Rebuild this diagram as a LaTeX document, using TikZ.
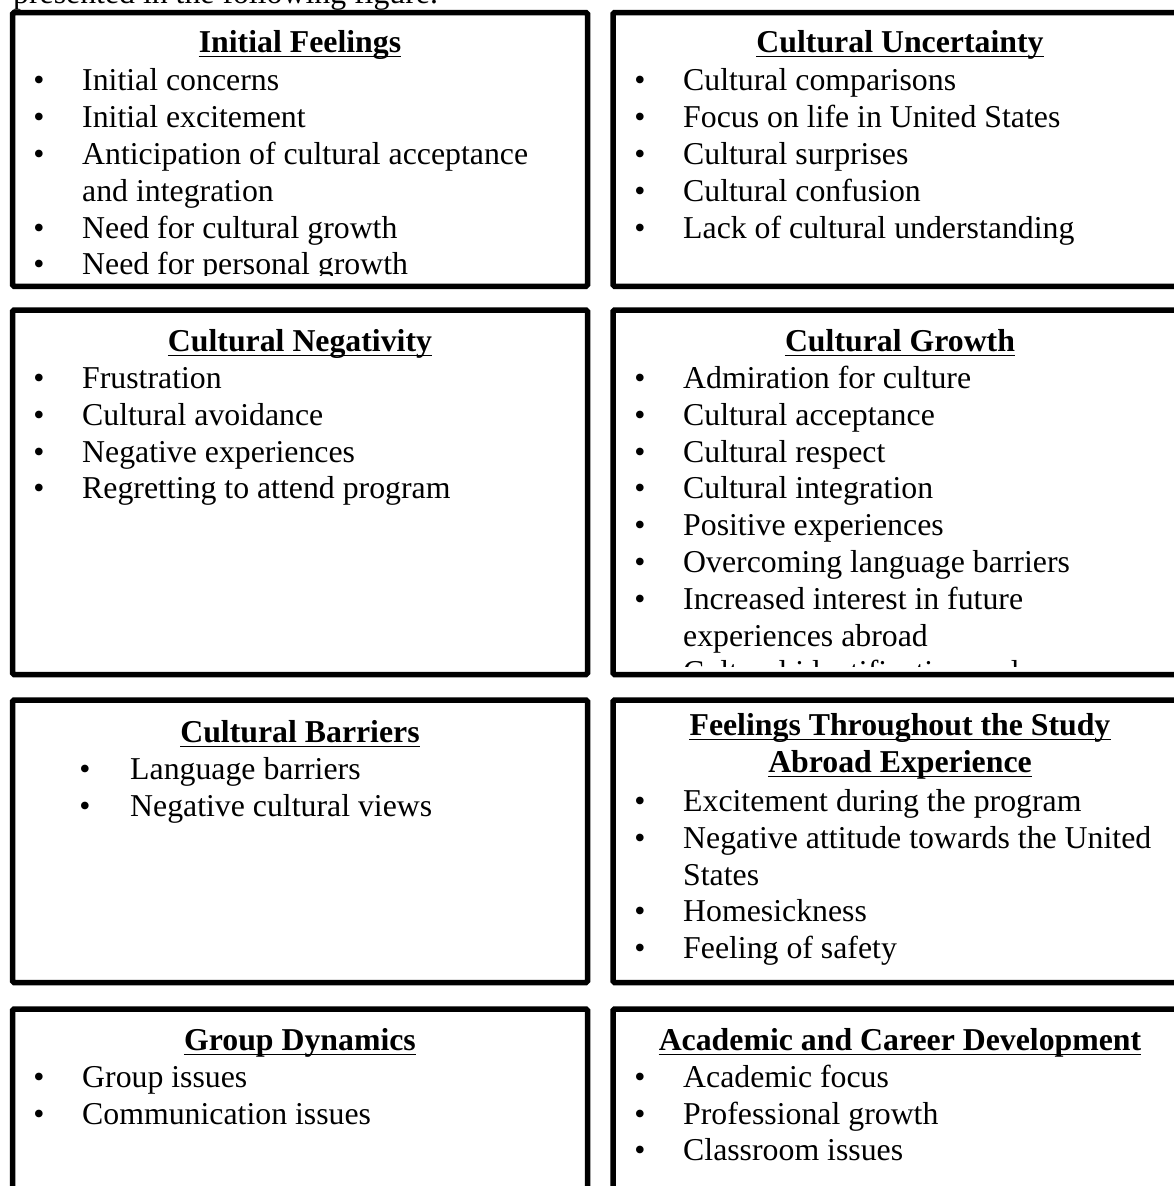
\documentclass[tikz,border=0pt]{standalone}
\usepackage{fontspec}
\setmainfont{Liberation Serif}
\begin{document}
\begin{tikzpicture}[x=1pt,y=-1pt,
  every node/.style={inner sep=0pt, font=\fontsize{31.8}{36.8}\selectfont},
  txt/.style={anchor=base west},
  bul/.style={anchor=base},
  head/.style={anchor=base, font=\fontsize{31.8}{36.8}\selectfont\bfseries},
  uline/.style={line width=1.8pt},
  frame/.style={line width=5.5pt, rounded corners=1.5pt}]
\clip (0,0) rectangle (1174,1186);
\fill[white] (0,0) rectangle (1174,1186);
\node[txt] (intro) at (13,3) {presented in the following figure.};
% frames
\draw[frame] (12.5,12.5) rectangle (587.5,286.3);
\draw[frame] (613,12.5) rectangle (1187.5,286.3);
\draw[frame] (12.5,310) rectangle (587.5,674.5);
\draw[frame] (613,310) rectangle (1187.5,674.5);
\draw[frame] (12.5,700) rectangle (587.5,982.5);
\draw[frame] (613,700) rectangle (1187.5,982.5);
\draw[frame] (12.5,1009) rectangle (587.5,1200);
\draw[frame] (613,1009) rectangle (1187.5,1200);
% Box 1 left
\node[head] (h1) at (300,52) {Initial Feelings};
\draw[uline] ([yshift=-4.5pt]h1.base west) -- ([yshift=-4.5pt]h1.base east);
\begin{scope}
\clip (15,15) rectangle (585,275.5);
\node[bul] (b1a) at (39,90) {•};  \node[txt] (t1a) at (82,90) {Initial concerns};
\node[bul] (b1b) at (39,127) {•}; \node[txt] (t1b) at (82,127) {Initial excitement};
\node[bul] (b1c) at (39,164) {•}; \node[txt] (t1c) at (82,164) {Anticipation of cultural acceptance};
\node[txt] (t1d) at (82,201) {and integration};
\node[bul] (b1e) at (39,238) {•}; \node[txt] (t1e) at (82,238) {Need for cultural growth};
\node[bul] (b1f) at (39,274) {•}; \node[txt] (t1f) at (82,274) {Need for personal growth};
\end{scope}
% Box 1 right
\node[head] (h2) at (900,52) {Cultural Uncertainty};
\draw[uline] ([yshift=-4.5pt]h2.base west) -- ([yshift=-4.5pt]h2.base east);
\node[bul] (b2a) at (640,90) {•};  \node[txt] (t2a) at (683,90) {Cultural comparisons};
\node[bul] (b2b) at (640,127) {•}; \node[txt] (t2b) at (683,127) {Focus on life in United States};
\node[bul] (b2c) at (640,164) {•}; \node[txt] (t2c) at (683,164) {Cultural surprises};
\node[bul] (b2d) at (640,201) {•}; \node[txt] (t2d) at (683,201) {Cultural confusion};
\node[bul] (b2e) at (640,238) {•}; \node[txt] (t2e) at (683,238) {Lack of cultural understanding};
% Box 2 left
\node[head] (h3) at (300,351) {Cultural Negativity};
\draw[uline] ([yshift=-4.5pt]h3.base west) -- ([yshift=-4.5pt]h3.base east);
\node[bul] (b3a) at (39,388) {•}; \node[txt] (t3a) at (82,388) {Frustration};
\node[bul] (b3b) at (39,425) {•}; \node[txt] (t3b) at (82,425) {Cultural avoidance};
\node[bul] (b3c) at (39,462) {•}; \node[txt] (t3c) at (82,462) {Negative experiences};
\node[bul] (b3d) at (39,498) {•}; \node[txt] (t3d) at (82,498) {Regretting to attend program};
% Box 2 right
\node[head] (h4) at (900,351) {Cultural Growth};
\draw[uline] ([yshift=-4.5pt]h4.base west) -- ([yshift=-4.5pt]h4.base east);
\begin{scope}
\clip (616,313) rectangle (1185,666);
\node[bul] (b4a) at (640,388) {•}; \node[txt] (t4a) at (683,388) {Admiration for culture};
\node[bul] (b4b) at (640,425) {•}; \node[txt] (t4b) at (683,425) {Cultural acceptance};
\node[bul] (b4c) at (640,462) {•}; \node[txt] (t4c) at (683,462) {Cultural respect};
\node[bul] (b4d) at (640,498) {•}; \node[txt] (t4d) at (683,498) {Cultural integration};
\node[bul] (b4e) at (640,535) {•}; \node[txt] (t4e) at (683,535) {Positive experiences};
\node[bul] (b4f) at (640,572) {•}; \node[txt] (t4f) at (683,572) {Overcoming language barriers};
\node[bul] (b4g) at (640,609) {•}; \node[txt] (t4g) at (683,609) {Increased interest in future};
\node[txt] (t4h) at (683,646) {experiences abroad};
\node[bul] (b4i) at (640,682) {•}; \node[txt] (t4i) at (683,682) {Cultural identification and};
\end{scope}
% Box 3 left
\node[head] (h5) at (300,742) {Cultural Barriers};
\draw[uline] ([yshift=-4.5pt]h5.base west) -- ([yshift=-4.5pt]h5.base east);
\node[bul] (b5a) at (85,779) {•}; \node[txt] (t5a) at (130,779) {Language barriers};
\node[bul] (b5b) at (85,816) {•}; \node[txt] (t5b) at (130,816) {Negative cultural views};
% Box 3 right
\node[head] (h6) at (900,735) {Feelings Throughout the Study};
\draw[uline] ([yshift=-4.5pt]h6.base west) -- ([yshift=-4.5pt]h6.base east);
\node[head] (h6b) at (900,772) {Abroad Experience};
\draw[uline] ([yshift=-4.5pt]h6b.base west) -- ([yshift=-4.5pt]h6b.base east);
\node[bul] (b6a) at (640,811) {•}; \node[txt] (t6a) at (683,811) {Excitement during the program};
\node[bul] (b6b) at (640,848) {•}; \node[txt] (t6b) at (683,848) {Negative attitude towards the United};
\node[txt] (t6c) at (683,885) {States};
\node[bul] (b6d) at (640,921) {•}; \node[txt] (t6d) at (683,921) {Homesickness};
\node[bul] (b6e) at (640,958) {•}; \node[txt] (t6e) at (683,958) {Feeling of safety};
% Box 4 left
\node[head] (h7) at (300,1050) {Group Dynamics};
\draw[uline] ([yshift=-4.5pt]h7.base west) -- ([yshift=-4.5pt]h7.base east);
\node[bul] (b7a) at (39,1087) {•}; \node[txt] (t7a) at (82,1087) {Group issues};
\node[bul] (b7b) at (39,1124) {•}; \node[txt] (t7b) at (82,1124) {Communication issues};
% Box 4 right
\node[head] (h8) at (900,1050) {Academic and Career Development};
\draw[uline] ([yshift=-4.5pt]h8.base west) -- ([yshift=-4.5pt]h8.base east);
\node[bul] (b8a) at (640,1087) {•}; \node[txt] (t8a) at (683,1087) {Academic focus};
\node[bul] (b8b) at (640,1124) {•}; \node[txt] (t8b) at (683,1124) {Professional growth};
\node[bul] (b8c) at (640,1160) {•}; \node[txt] (t8c) at (683,1160) {Classroom issues};
\end{tikzpicture}
\end{document}
